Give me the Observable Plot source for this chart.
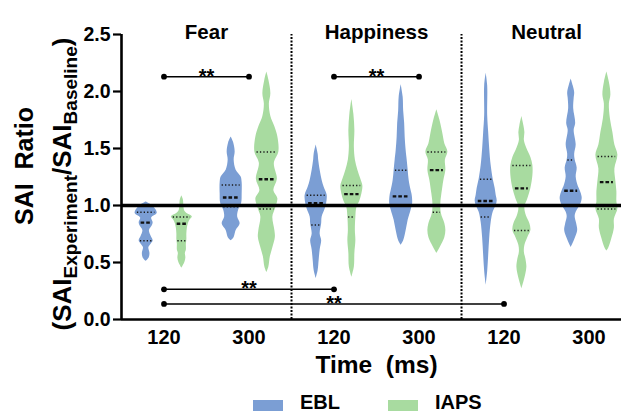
<!DOCTYPE html>
<html><head><meta charset="utf-8">
<script src="https://cdn.jsdelivr.net/npm/d3@7"></script>
<script src="https://cdn.jsdelivr.net/npm/@observablehq/plot@0.6"></script>
<style>
html,body{margin:0;padding:0;background:#fff;}
#chart{width:621px;height:412px;overflow:hidden;}
svg{display:block;}
</style></head><body><div id="chart"></div>
<script>
// ---------- data ----------
const emotions = ["Fear", "Happiness", "Neutral"];
const times = ["120", "300"];
const sources = ["EBL", "IAPS"];
const yTicks = [0, 0.5, 1, 1.5, 2, 2.5];

// violin profiles: [SAI ratio, relative density]
const fearEBL120 = [[1.03,0],[1.00,6],[0.96,10],[0.93,11],[0.89,5.5],[0.85,7],[0.82,6],[0.78,3.3],[0.73,5],[0.69,7],[0.66,5],[0.63,2.7],[0.58,3.8],[0.54,3],[0.51,0]];
const fearIAPS120 = [[1.085,0],[1.05,1.5],[1.00,2],[0.95,3],[0.92,7],[0.90,10.5],[0.87,8],[0.84,6.5],[0.80,5.5],[0.75,5],[0.70,5],[0.66,4.5],[0.61,4.5],[0.58,3.5],[0.54,4],[0.50,3],[0.45,0]];
const fearEBL300 = [[1.60,0],[1.55,2.5],[1.47,4],[1.40,3],[1.31,5],[1.25,10],[1.20,11],[1.10,11],[1.02,10.5],[0.96,7.5],[0.90,6.5],[0.84,9],[0.78,5],[0.72,3],[0.69,0]];
const fearIAPS300 = [[2.17,0],[2.10,2],[1.98,4],[1.89,2.5],[1.78,4],[1.69,8],[1.60,11],[1.47,12],[1.37,7.5],[1.23,10.5],[1.13,7],[1.06,11],[0.97,8.5],[0.90,6],[0.78,8],[0.72,8.5],[0.63,6],[0.55,3.5],[0.46,2],[0.41,0]];
const happyEBL120 = [[1.53,0],[1.45,2],[1.40,2.5],[1.31,4],[1.22,6],[1.16,8],[1.09,11],[1.02,10.5],[0.97,9],[0.90,6],[0.84,5.5],[0.75,4],[0.69,5.5],[0.61,4],[0.52,3],[0.43,2],[0.36,0]];
const happyIAPS120 = [[1.93,0],[1.80,2],[1.66,3],[1.51,2.5],[1.40,3.5],[1.31,6],[1.23,9],[1.17,11],[1.10,10],[1.04,8],[0.98,5],[0.90,4],[0.78,3.5],[0.69,4],[0.58,3],[0.46,2.5],[0.37,0]];
const happyEBL300 = [[2.06,0],[1.95,2],[1.83,2.5],[1.72,3.5],[1.60,4],[1.48,5],[1.40,6],[1.31,7],[1.22,8],[1.13,10],[1.09,11],[1.02,11.5],[0.96,10],[0.87,7],[0.78,5],[0.69,2.5],[0.65,0]];
const happyIAPS300 = [[1.84,0],[1.75,3],[1.63,6],[1.54,8],[1.47,11],[1.40,8.5],[1.31,9],[1.22,7],[1.10,5],[1.02,4],[0.93,4.5],[0.84,8],[0.78,9],[0.72,8],[0.66,5],[0.61,2],[0.58,0]];
const neutralEBL120 = [[2.16,0],[2.05,1.5],[1.79,1.5],[1.64,2.5],[1.50,3.5],[1.35,5],[1.23,7],[1.15,9],[1.09,10],[1.04,11],[1.00,10],[0.94,7],[0.85,5],[0.71,3.5],[0.56,2.5],[0.42,1.5],[0.30,0]];
const neutralIAPS120 = [[1.78,0],[1.70,2],[1.64,3],[1.57,2.5],[1.50,5],[1.42,9],[1.35,11],[1.26,11],[1.15,9],[1.06,6],[0.985,3],[0.91,4.5],[0.84,8],[0.78,9],[0.72,6],[0.65,3],[0.59,2.5],[0.53,4],[0.46,5],[0.40,4],[0.33,2],[0.27,0]];
const neutralEBL300 = [[2.11,0],[2.05,2],[1.99,3.5],[1.94,3],[1.85,2.5],[1.72,4.5],[1.66,3],[1.53,5],[1.45,3.5],[1.40,4],[1.33,6],[1.25,5],[1.17,7],[1.13,9],[1.07,11],[1.02,10],[0.94,5],[0.90,4],[0.84,5.5],[0.78,6.5],[0.71,4],[0.63,0]];
const neutralIAPS300 = [[2.17,0],[2.08,2.5],[1.97,4],[1.89,2.5],[1.76,3.5],[1.64,6],[1.53,8],[1.44,11],[1.32,8],[1.21,9],[1.12,10],[1.03,10],[0.97,11],[0.88,7.5],[0.80,7.5],[0.71,5],[0.63,2],[0.60,0]];

// order: emotion > time > source
const profiles = [fearEBL120, fearIAPS120, fearEBL300, fearIAPS300,
                  happyEBL120, happyIAPS120, happyEBL300, happyIAPS300,
                  neutralEBL120, neutralIAPS120, neutralEBL300, neutralIAPS300];
const lowerQuartiles = [0.69, 0.69, 0.99, 0.97, 0.83, 0.90, 1.00, 0.94, 0.90, 0.78, 1.00, 0.97];
const medians        = [0.85, 0.84, 1.07, 1.23, 1.02, 1.10, 1.08, 1.31, 1.04, 1.15, 1.13, 1.205];
const upperQuartiles = [0.94, 0.90, 1.18, 1.47, 1.09, 1.175, 1.31, 1.47, 1.23, 1.35, 1.40, 1.43];

// significance comparisons
const sigFrom  = [["Fear","120"], ["Happiness","120"], ["Fear","120"], ["Fear","120"]];
const sigTo    = [["Fear","300"], ["Happiness","300"], ["Happiness","120"], ["Neutral","120"]];
const sigLevel = [2.13, 2.13, 0.265, 0.137];
const sigLabel = ["**", "**", "**", "**"];

// ---------- layout helpers ----------
const BLUE = "#7b9ed4", GREEN = "#a8dba0";
const GROUP = 10;              // x units per emotion group
const XMAX = 29.41;
const K = 1 / 17;              // density -> x units
const pairPos = (e, t) => emotions.indexOf(e) * GROUP + (times.indexOf(t) ? 7.5 : 2.5);
const center = (i) => {
  const e = Math.floor(i / 4), t = Math.floor(i / 2) % 2, s = i % 2;
  return e * GROUP + (t ? 7.5 : 2.5) + (s ? 1.05 : -1.05);
};
function widthAt(profile, v) {
  const p = profile.slice().sort((a, b) => a[0] - b[0]);
  for (let j = 0; j < p.length - 1; j++) {
    if (v >= p[j][0] && v <= p[j + 1][0]) {
      const f = (v - p[j][0]) / (p[j + 1][0] - p[j][0]);
      return p[j][1] + f * (p[j + 1][1] - p[j][1]);
    }
  }
  return 0;
}

const violinRows = [];
profiles.forEach((p, i) => {
  const c = center(i);
  p.slice().sort((a, b) => a[0] - b[0]).forEach(([v, d]) =>
    violinRows.push({id: i, src: sources[i % 2], v, lo: c - d * K, hi: c + d * K}));
});
const quartRows = [], medRows = [];
profiles.forEach((p, i) => {
  const c = center(i);
  [lowerQuartiles[i], upperQuartiles[i]].forEach(q => {
    const w = widthAt(p, q) * K * 0.82;
    quartRows.push({v: q, lo: c - w, hi: c + w});
  });
  const w = widthAt(p, medians[i]) * K * 0.72;
  medRows.push({v: medians[i], lo: c - w, hi: c + w});
});
const sigRows = sigLevel.map((lv, i) => ({
  level: lv, label: sigLabel[i],
  a: pairPos(...sigFrom[i]), b: pairPos(...sigTo[i])
}));
const sigEnds = sigRows.flatMap(d => [{x: d.a, y: d.level}, {x: d.b, y: d.level}]);
const tickRows = emotions.flatMap(e => times.map(t => ({x: pairPos(e, t), t})));

const FONT = "'Liberation Sans', Arial, Helvetica, sans-serif";

const svg = Plot.plot({
  width: 621, height: 412,
  marginLeft: 121, marginRight: 0, marginTop: 34, marginBottom: 93,
  x: {domain: [0, XMAX], axis: null},
  y: {domain: [0, 2.5], label: null},
  color: {domain: sources, range: [BLUE, GREEN]},
  style: {fontFamily: FONT, fontWeight: "bold", color: "#000", background: "#fff", overflow: "visible"},
  marks: [
    Plot.areaX(violinRows, {y: "v", x1: "lo", x2: "hi", z: "id", fill: "src", curve: "catmull-rom"}),
    Plot.ruleY(quartRows, {y: "v", x1: "lo", x2: "hi", stroke: "#1a1a1a", strokeWidth: 1.5, strokeDasharray: "1.3,2.1"}),
    Plot.ruleY(medRows, {y: "v", x1: "lo", x2: "hi", stroke: "#111", strokeWidth: 2.4, strokeDasharray: "3.6,2"}),
    Plot.ruleY([1], {x1: 0, x2: XMAX, stroke: "#000", strokeWidth: 3.3}),
    Plot.ruleX(emotions.slice(1).map((_, i) => (i + 1) * GROUP), {y1: 0, y2: 2.5, stroke: "#000", strokeWidth: 2, strokeDasharray: "2,1.5"}),
    Plot.axisY({ticks: yTicks, tickFormat: d3.format(".1f"), tickSize: 8, tickPadding: 3, fontSize: 19.5, strokeWidth: 2.2, label: null}),
    Plot.ruleX([0], {y1: 0, y2: 2.5, stroke: "#000", strokeWidth: 2.6}),
    Plot.ruleY([0], {x1: 0, x2: XMAX, stroke: "#000", strokeWidth: 2.6}),
    Plot.ruleY(sigRows, {y: "level", x1: "a", x2: "b", stroke: "#000", strokeWidth: 1.5}),
    Plot.dot(sigEnds, {x: "x", y: "y", r: 2.9, fill: "#000"}),
    Plot.text(sigRows, {x: d => (d.a + d.b) / 2, y: "level", text: "label", fontSize: 20, dy: -0.5}),
    Plot.text(emotions, {x: (d, i) => i * GROUP + GROUP / 2, text: d => d, frameAnchor: "top", dy: -10.5, fontSize: 20.5}),
    Plot.text(tickRows, {x: "x", text: "t", frameAnchor: "bottom", dy: 24.5, fontSize: 20}),
    Plot.text(["Time\u00a0\u00a0(ms)"], {x: 1.5 * GROUP, text: d => d, frameAnchor: "bottom", dy: 53.5, fontSize: 24.5})
  ]
});

// y-axis title (two lines, with subscripts)
const s = d3.select(svg);
s.append("text")
  .attr("transform", "translate(33,166) rotate(-90)")
  .attr("text-anchor", "middle").attr("font-size", 25).attr("font-weight", "bold")
  .attr("font-family", FONT).attr("fill", "#000")
  .text("SAI\u00a0\u00a0Ratio");
const t2 = s.append("text")
  .attr("transform", "translate(71,184) rotate(-90)")
  .attr("text-anchor", "middle").attr("font-size", 26).attr("font-weight", "bold")
  .attr("font-family", FONT).attr("fill", "#000");
t2.append("tspan").text("(SAI");
t2.append("tspan").attr("dy", 6).attr("font-size", 19).text("Experiment");
t2.append("tspan").attr("dy", -6).text("/SAI");
t2.append("tspan").attr("dy", 6).attr("font-size", 19).text("Baseline");
t2.append("tspan").attr("dy", -6).text(")");

// legend
const leg = s.append("g").attr("font-family", FONT).attr("font-weight", "bold").attr("font-size", 20).attr("text-anchor", "start");
[[253, 300, BLUE, "EBL"], [388, 435, GREEN, "IAPS"]].forEach(([rx, tx, col, lab]) => {
  leg.append("rect").attr("x", rx).attr("y", 400).attr("width", 30).attr("height", 11).attr("fill", col);
  leg.append("text").attr("x", tx).attr("y", 409).attr("fill", "#000").attr("text-anchor", "start").text(lab);
});

document.getElementById("chart").appendChild(svg);
</script></body></html>
